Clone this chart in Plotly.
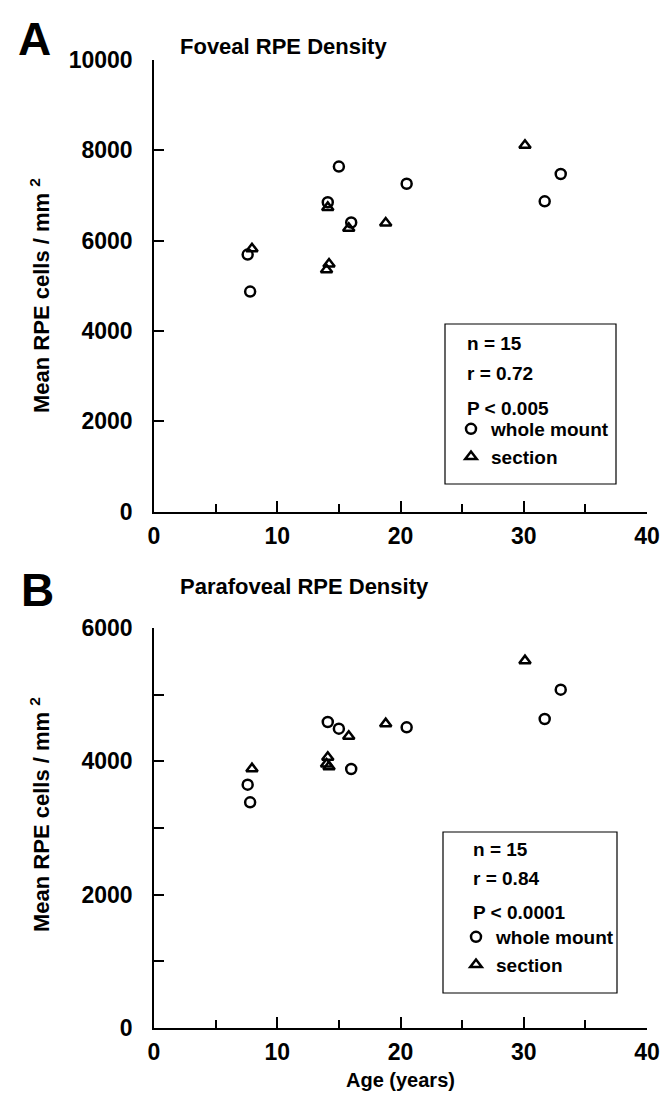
import plotly.graph_objects as go

# ---- data ----
wm_age = [7.6, 7.8, 14.1, 15.0, 16.0, 20.5, 31.7, 33.0]          # whole mount ages
wm_fov = [5690, 4870, 6850, 7640, 6400, 7260, 6870, 7475]        # foveal density
wm_para = [3650, 3385, 4590, 4490, 3885, 4510, 4635, 5075]       # parafoveal density

sec_age = [7.95, 14.0, 14.1, 14.2, 15.8, 18.8, 30.1]             # section ages
sec_fov = [5820, 5355, 6735, 5480, 6275, 6390, 8110]
sec_para = [3890, 3960, 4060, 3920, 4375, 4565, 5510]

stats_a = ["n = 15", "r = 0.72", "P < 0.005"]
stats_b = ["n = 15", "r = 0.84", "P < 0.0001"]

FONT = "Liberation Sans, Arial, Helvetica, sans-serif"
W, H = 668, 1093
ML, MR, MT, MB = 146, 29, 52, 73
PW, PH = W - ML - MR, H - MT - MB


def px_x(p):
    return (p - ML) / PW


def px_y(p):
    return (H - MB - p) / PH


fig = go.Figure()

mk_c = dict(symbol="circle-open", size=10, color="black", line=dict(width=2.5, color="black"))
mk_t = dict(symbol="triangle-up-open", size=10, color="black", line=dict(width=2.5, color="black"))

fig.add_trace(go.Scatter(x=wm_age, y=wm_fov, mode="markers", marker=mk_c, name="whole mount",
                         xaxis="x", yaxis="y", legend="legend"))
fig.add_trace(go.Scatter(x=sec_age, y=sec_fov, mode="markers", marker=mk_t, name="section",
                         xaxis="x", yaxis="y", legend="legend"))
fig.add_trace(go.Scatter(x=wm_age, y=wm_para, mode="markers", marker=mk_c, name="whole mount",
                         xaxis="x2", yaxis="y2", legend="legend2"))
fig.add_trace(go.Scatter(x=sec_age, y=sec_para, mode="markers", marker=mk_t, name="section",
                         xaxis="x2", yaxis="y2", legend="legend2"))

tickfont = dict(family=FONT, size=23, color="black", weight="bold")


def xax(anchor):
    return dict(anchor=anchor, domain=[0, 1], range=[0, 40], dtick=10, tick0=0,
                ticks="inside", ticklen=11, tickwidth=1.5, tickcolor="black",
                minor=dict(dtick=5, tick0=0, ticks="inside", ticklen=8, tickwidth=1.5, tickcolor="black"),
                showline=True, linewidth=1.5, linecolor="black", showgrid=False, zeroline=False,
                tickfont=tickfont, ticklabelstandoff=3, tickformat="d")


def yax(anchor, domain, rng, minor_dtick=None):
    d = dict(anchor=anchor, domain=domain, range=rng, dtick=2000, tick0=0,
             ticks="inside", ticklen=10, tickwidth=1.5, tickcolor="black",
             showline=True, linewidth=1.5, linecolor="black", showgrid=False, zeroline=False,
             tickfont=tickfont, ticklabelstandoff=15, tickformat="d")
    if minor_dtick:
        d["minor"] = dict(dtick=minor_dtick, tick0=0, ticks="inside", ticklen=10, tickwidth=1.5,
                          tickcolor="black")
    return d


legfont = dict(family=FONT, size=19, color="black", weight="bold")

fig.update_layout(
    width=W, height=H, margin=dict(l=ML, r=MR, t=MT, b=MB),
    paper_bgcolor="white", plot_bgcolor="white",
    xaxis=xax("y"), yaxis=yax("x", [px_y(503.5), 1.0], [0, 10000]),
    xaxis2=xax("y2"), yaxis2=yax("x2", [0, px_y(620)], [0, 6000], 1000),
    legend=dict(x=px_x(443), y=px_y(402), xanchor="left", yanchor="top", font=legfont,
                bgcolor="rgba(0,0,0,0)", borderwidth=0, tracegroupgap=0, itemwidth=30),
    legend2=dict(x=px_x(448), y=px_y(910), xanchor="left", yanchor="top", font=legfont,
                 bgcolor="rgba(0,0,0,0)", borderwidth=0, tracegroupgap=0, itemwidth=30),
    showlegend=True,
)

shapes = [
    dict(type="rect", xref="paper", yref="paper", x0=px_x(437), x1=px_x(608), y0=px_y(476), y1=px_y(316),
         line=dict(color="black", width=1.2)),
    dict(type="rect", xref="paper", yref="paper", x0=px_x(435), x1=px_x(609), y0=px_y(985), y1=px_y(824),
         line=dict(color="black", width=1.2)),
]
fig.update_layout(shapes=shapes)

ann = []
boxfont = dict(family=FONT, size=19, color="black", weight="bold")
for txt, yy in zip(stats_a, [335, 365, 400]):
    ann.append(dict(text=txt, x=px_x(457), y=px_y(yy), xref="paper", yref="paper",
                    xanchor="left", yanchor="middle", showarrow=False, font=boxfont))
for txt, yy in zip(stats_b, [841, 870, 904]):
    ann.append(dict(text=txt, x=px_x(463), y=px_y(yy), xref="paper", yref="paper",
                    xanchor="left", yanchor="middle", showarrow=False, font=boxfont))

titlefont = dict(family=FONT, size=22, color="black", weight="bold")
ann.append(dict(text="Foveal RPE Density", x=px_x(170), y=px_y(39), xref="paper", yref="paper",
                xanchor="left", yanchor="middle", showarrow=False, font=titlefont))
ann.append(dict(text="Parafoveal RPE Density", x=px_x(170), y=px_y(578), xref="paper", yref="paper",
                xanchor="left", yanchor="middle", showarrow=False, font=titlefont))

letterfont = dict(family=FONT, size=46, color="black", weight="bold")
ann.append(dict(text="A", x=px_x(8), y=px_y(31), xref="paper", yref="paper",
                xanchor="left", yanchor="middle", showarrow=False, font=letterfont))
ann.append(dict(text="B", x=px_x(11), y=px_y(582), xref="paper", yref="paper",
                xanchor="left", yanchor="middle", showarrow=False, font=letterfont))

axtfont = dict(family=FONT, size=22, color="black", weight="bold")
ytitle = "Mean RPE cells / mm <sup>2</sup>"
ann.append(dict(text=ytitle, x=px_x(32), y=px_y(288), xref="paper", yref="paper", textangle=-90,
                xanchor="center", yanchor="middle", showarrow=False, font=axtfont))
ann.append(dict(text=ytitle, x=px_x(32), y=px_y(807), xref="paper", yref="paper", textangle=-90,
                xanchor="center", yanchor="middle", showarrow=False, font=axtfont))
ann.append(dict(text="Age (years)", x=px_x(392), y=px_y(1072), xref="paper", yref="paper",
                xanchor="center", yanchor="middle", showarrow=False,
                font=dict(family=FONT, size=20, color="black", weight="bold")))

fig.update_layout(annotations=ann)

fig.write_html("out.html")
